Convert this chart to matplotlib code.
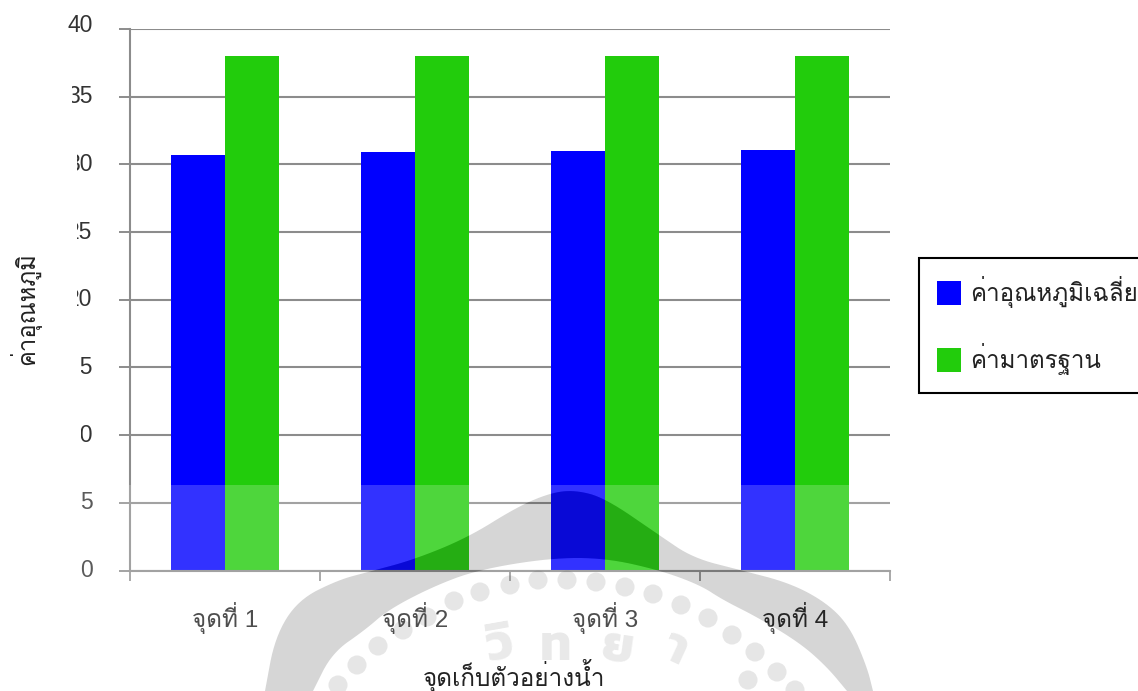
import numpy as np
import matplotlib
matplotlib.use('Agg')
import matplotlib.pyplot as plt
from matplotlib.patches import Circle, PathPatch, Polygon, Rectangle
from matplotlib.path import Path
from matplotlib.transforms import Affine2D

W, H = 1138, 691
DIGIT_THAI = ['Liberation Sans', 'Loma']

# Data
categories = ['จุดที่ 1', 'จุดที่ 2', 'จุดที่ 3', 'จุดที่ 4']
mean_temp = [30.7, 30.9, 31.0, 31.05]
standard = [38, 38, 38, 38]
y_ticks = [0, 5, 10, 15, 20, 25, 30, 35, 40]
series_names = ['ค่าอุณหภูมิเฉลี่ย', 'ค่ามาตรฐาน']
x_title = 'จุดเก็บตัวอย่างน้ำ'
y_title = 'ค่าอุณหภูมิ'

plt.rcParams['font.family'] = DIGIT_THAI


def px(x, y):
    """Figure fraction from reference pixel position (y from the top)."""
    return x / W, 1 - y / H


def smooth(points, rounds=3):
    """Corner cutting of an open outline, for the watermark shape only."""
    pts = np.asarray(points, float)
    for _ in range(rounds):
        a, b = pts[:-1], pts[1:]
        mid = np.empty((2 * len(a), 2))
        mid[0::2] = 0.75 * a + 0.25 * b
        mid[1::2] = 0.25 * a + 0.75 * b
        pts = np.vstack([pts[:1], mid, pts[-1:]])
    return [tuple(p) for p in pts]


fig = plt.figure(figsize=(W / 100, H / 100), dpi=100)
fig.patch.set_facecolor('white')
L, T, R, B = 130, 29, 890, 570.5
ax = fig.add_axes([L / W, 1 - B / H, (R - L) / W, (B - T) / H])
x = np.arange(len(categories))
bw = 54 / 190
ax.bar(x - bw / 2, mean_temp, bw, color='#0000ff', zorder=3, label=series_names[0])
ax.bar(x + bw / 2, standard, bw, color='#22cc0c', zorder=3, label=series_names[1])
ax.set_xlim(-0.5, len(categories) - 0.5)
ax.set_ylim(0, 40)
ax.set_yticks(y_ticks)
ax.set_yticklabels([str(v) for v in y_ticks])
ax.set_xticks(np.arange(len(categories) + 1) - 0.5)
ax.set_xticklabels([])
ax.set_xticks(x, categories, minor=True)
ax.grid(axis='y', color='#8c8c8c', lw=1.5, zorder=1)
ax.set_axisbelow(True)
for s in ('top', 'right'):
    ax.spines[s].set_visible(False)
for s in ('left', 'bottom'):
    ax.spines[s].set_color('#8c8c8c')
    ax.spines[s].set_linewidth(1.5)
    ax.spines[s].set_zorder(5)
ax.tick_params(axis='y', which='major', length=8, width=1.4, color='#8c8c8c',
               labelsize=16.5, labelcolor='#333333', pad=19)
ax.tick_params(axis='x', which='major', length=7, width=1.3, color='#8c8c8c')
ax.tick_params(axis='x', which='minor', length=0, labelsize=17.5,
               labelcolor='#222222', pad=23)
for lab, v in zip(ax.get_yticklabels(), y_ticks):
    lab.set_verticalalignment('center')
    if v == max(y_ticks):
        lab.set_transform(lab.get_transform() + Affine2D().translate(0, 3))
fig.text(*px(514, 676), x_title, ha='center', va='center', fontsize=17.5, color='#222222')
fig.text(*px(25, 309), y_title, rotation=90, ha='center', va='center', fontsize=17.2, color='#222222')

# Left part of the y labels is masked in the source image
for (x0, y0, x1, y1) in [(60, 80, 72, 112), (60, 148, 77, 315), (60, 350, 81, 450)]:
    fig.add_artist(Rectangle(px(x0, y1), (x1 - x0) / W, (y1 - y0) / H, transform=fig.transFigure,
                             facecolor='white', edgecolor='none', zorder=0.5))

# Legend box, drawn by the library
handles, labels = ax.get_legend_handles_labels()
leg = fig.legend(handles, labels, loc='upper left', bbox_to_anchor=(919 / W, 1 - 258 / H),
                 bbox_transform=fig.transFigure, frameon=True, fancybox=False, edgecolor='black',
                 framealpha=1, fontsize=17.4, labelcolor='#222222', labelspacing=1.45,
                 handlelength=1.0, handleheight=1.12, handletextpad=0.38, borderpad=0.75,
                 borderaxespad=0)
leg.get_frame().set_linewidth(1.5)
leg.set_zorder(3)

# Watermark of the scanned page: translucent white sheet below y=485 with a grey crest on top
upper = [(265, 691), (275, 637), (298, 600), (338, 580), (368, 572), (413, 560), (467, 538),
         (517, 507), (550, 493), (575, 490), (605, 498), (659, 535), (693, 558), (740, 570),
         (790, 583), (827, 603), (850, 627), (867, 667), (873, 691)]
lower = [(847, 691), (827, 667), (800, 643), (757, 617), (723, 600), (700, 585), (659, 570),
         (605, 558), (550, 558), (477, 570), (432, 587), (388, 610), (365, 630), (332, 653),
         (313, 691)]
band = smooth(upper) + smooth(lower)
band_fig = [px(*p) for p in band]
sheet = [px(0, 485), px(W, 485), px(W, H), px(0, H), px(0, 485)]
verts = sheet + band_fig[::-1] + [band_fig[-1]]
codes = [Path.MOVETO] + [Path.LINETO] * 3 + [Path.CLOSEPOLY] + \
        [Path.MOVETO] + [Path.LINETO] * (len(band_fig) - 1) + [Path.CLOSEPOLY]
fig.add_artist(PathPatch(Path(verts, codes), transform=fig.transFigure, facecolor='white',
                         alpha=0.2, edgecolor='none', zorder=2))
WM = '#323232'
fig.add_artist(Polygon(band_fig, closed=True, transform=fig.transFigure, facecolor=WM,
                       alpha=0.2, edgecolor='none', zorder=2))
dots = [(378, 646), (357, 665), (338, 685), (403, 630), (427, 617), (454, 601), (480, 592),
        (510, 585), (538, 580), (567, 580), (596, 582), (625, 587), (653, 594), (681, 605),
        (708, 618), (732, 635), (755, 652), (777, 672), (795, 690), (748, 680)]
flip = Affine2D().scale(1, -1).translate(0, H)
for d in dots:
    fig.add_artist(Circle(d, 9.5, transform=flip, facecolor=WM, alpha=0.15,
                          edgecolor='none', zorder=1.5))

# Lettering of the watermark seal
crest = [('วิ', 500, 648, 10), ('ท', 555, 648, 0), ('ย', 617, 650, -8), ('า', 675, 650, -25)]
for ch, cx, cy, rot in crest:
    fig.text(*px(cx, cy), ch, ha='center', va='center', rotation=rot, fontsize=36,
             fontweight='bold', family='Kanit', color=WM, alpha=0.13, zorder=1.5)
fig.savefig('out.png', dpi=100)
